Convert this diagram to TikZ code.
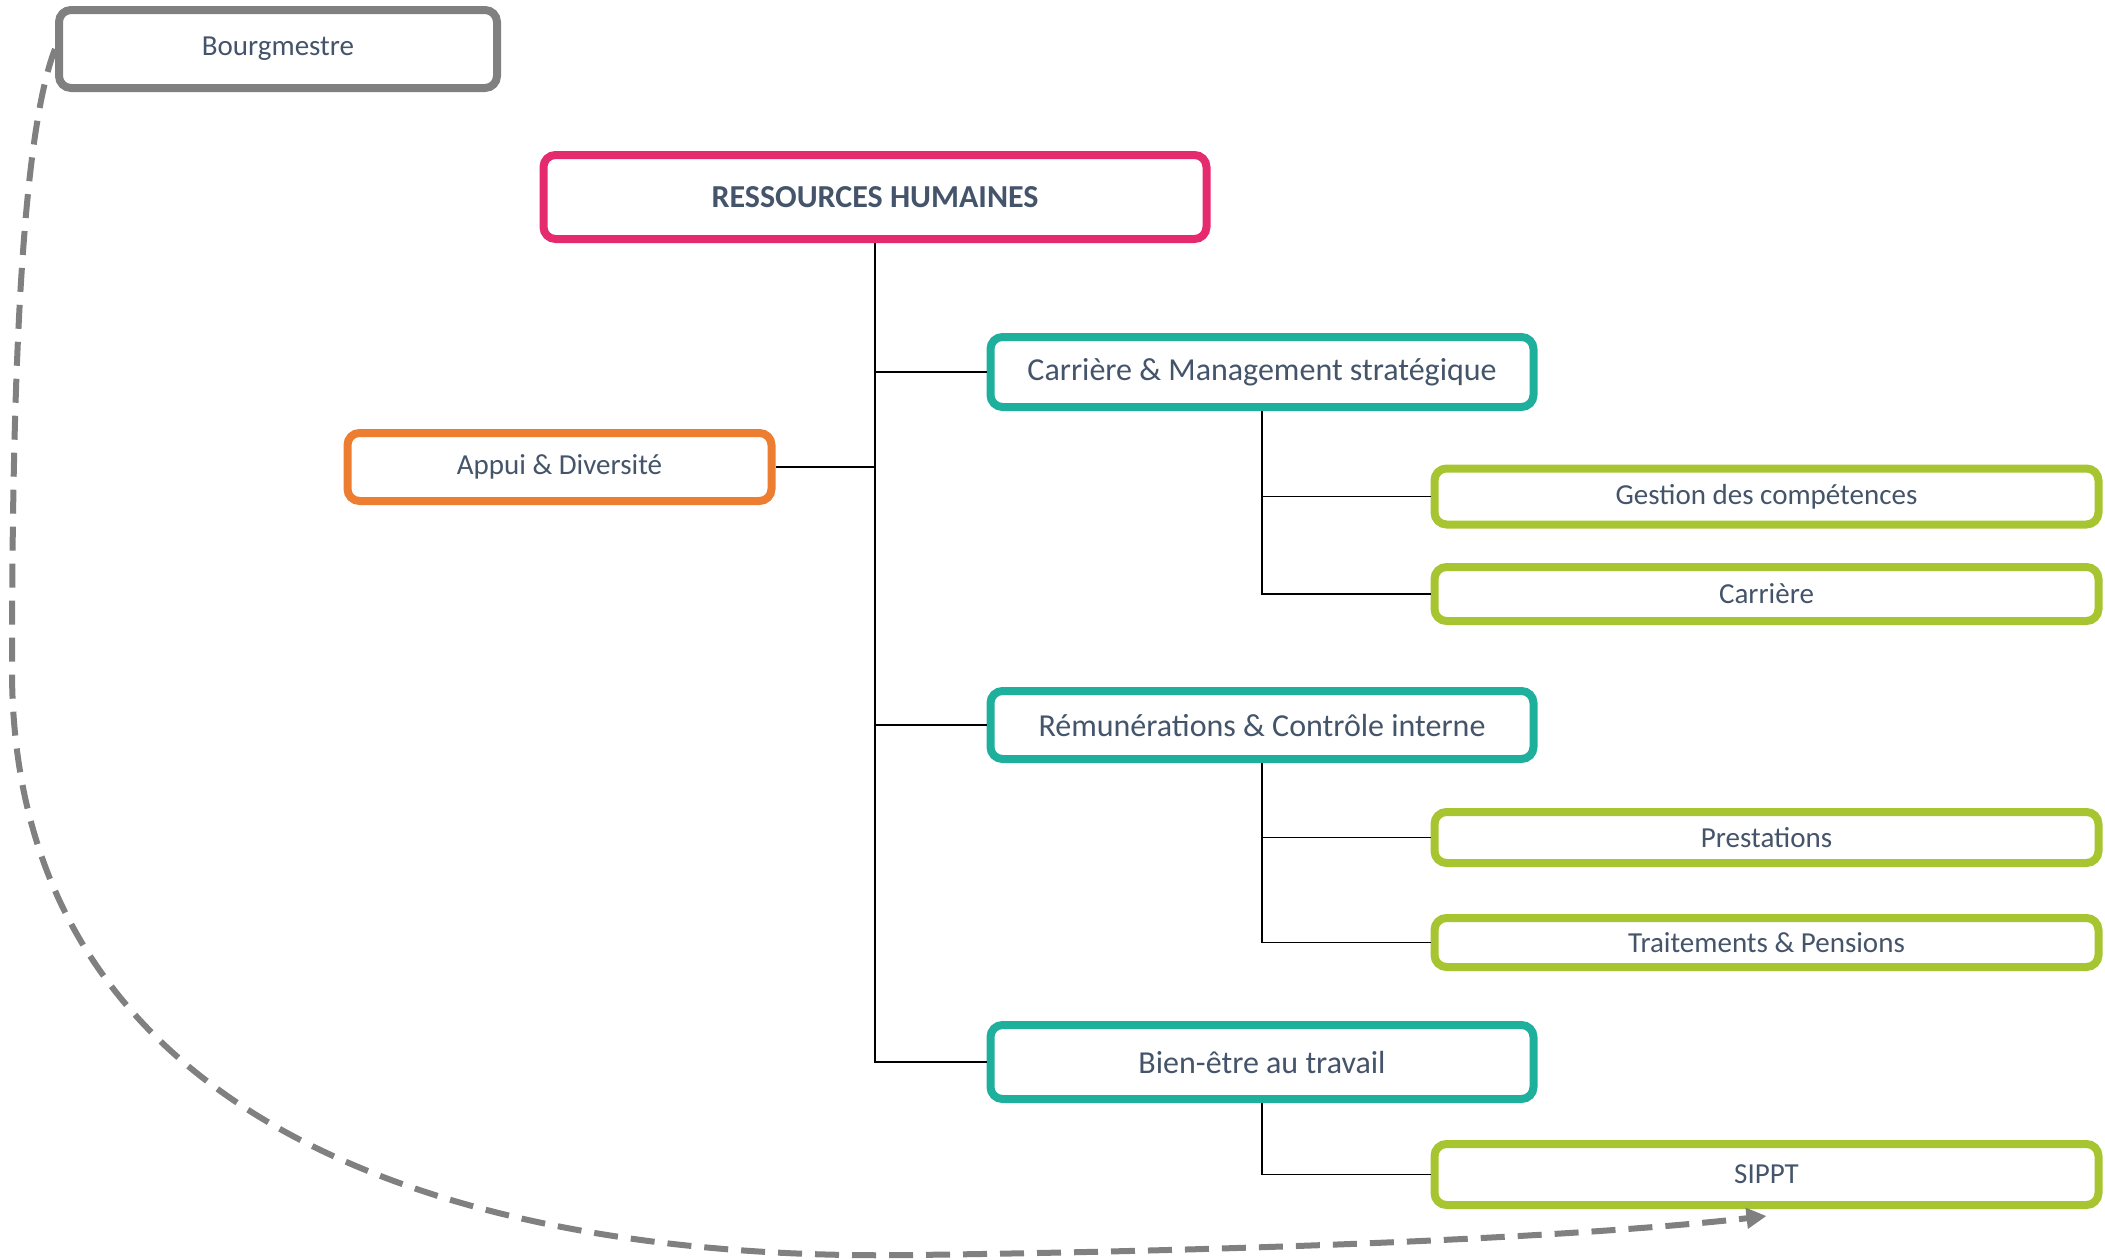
\documentclass[tikz,border=0pt]{standalone}
\usepackage{fontspec}
\setmainfont{Carlito}
\usetikzlibrary{arrows.meta}
\definecolor{txt}{HTML}{44546A}
\definecolor{cpink}{HTML}{E62A6E}
\definecolor{corange}{HTML}{ED7D31}
\definecolor{cteal}{HTML}{1FAF9D}
\definecolor{cgreen}{HTML}{A6C530}
\definecolor{cgray}{HTML}{808080}
\tikzset{
  box/.style={draw, rounded corners=12pt, line width=8pt, fill=white, text=txt, inner sep=0pt, align=center},
  bigfont/.style={font=\fontsize{32}{38}\selectfont},
  smallfont/.style={font=\fontsize{29}{35}\selectfont},
  link/.style={draw=black, line width=1.4pt},
  dashlink/.style={draw=cgray, line width=6pt, dash pattern=on 24pt off 13pt, -{Triangle[length=20pt,width=20pt]}}
}
\begin{document}
\begin{tikzpicture}[x=1pt,y=-1pt]
\useasboundingbox (0,0) rectangle (2105,1259);
% nodes
\node[box, smallfont, draw=cgray, minimum width=438pt, minimum height=78pt] (B) at (278,49) {\raisebox{-4pt}{Bourgmestre}};
\node[box, draw=cpink, minimum width=663pt, minimum height=84pt, font=\fontsize{32}{38}\selectfont\bfseries] (RH) at (875,197) {RESSOURCES HUMAINES};
\node[box, smallfont, draw=corange, minimum width=424pt, minimum height=68pt] (AD) at (559.5,467) {Appui \& Diversité};
\node[box, bigfont, draw=cteal, minimum width=543pt, minimum height=70pt] (CM) at (1262,372) {\raisebox{-3pt}{Carrière \& Management stratégique}};
\node[box, bigfont, draw=cteal, minimum width=543pt, minimum height=68pt] (RC) at (1262,725) {Rémunérations \& Contrôle interne};
\node[box, bigfont, draw=cteal, minimum width=543pt, minimum height=74pt] (BE) at (1262,1062) {Bien-être au travail};
\node[box, smallfont, draw=cgreen, minimum width=664pt, minimum height=56pt] (GC) at (1766.5,496.5) {Gestion des compétences};
\node[box, smallfont, draw=cgreen, minimum width=664pt, minimum height=54pt] (CA) at (1766.5,594) {Carrière};
\node[box, smallfont, draw=cgreen, minimum width=664pt, minimum height=51pt] (PR) at (1766.5,837.5) {Prestations};
\node[box, smallfont, draw=cgreen, minimum width=664pt, minimum height=49pt] (TP) at (1766.5,942.5) {Traitements \& Pensions};
\node[box, smallfont, draw=cgreen, minimum width=664pt, minimum height=61pt] (SI) at (1766.5,1174.5) {SIPPT};
% connectors
\draw[link] (RH.south) -- (RH.south |- BE.west) -- (BE.west);
\draw[link] (RH.south |- CM.west) -- (CM.west);
\draw[link] (RH.south |- RC.west) -- (RC.west);
\draw[link] (AD.east) -- (RH.south |- AD.east);
\draw[link] (CM.south) |- (GC.west);
\draw[link] (CM.south) |- (CA.west);
\draw[link] (RC.south) |- (PR.west);
\draw[link] (RC.south) |- (TP.west);
\draw[link] (BE.south) |- (SI.west);
% dashed link
\coordinate (arrowend) at ([yshift=-7pt]SI.south);
\draw[dashlink] (B.west) .. controls (20,140) and (12,400) .. (12,670)
  .. controls (12,1120) and (450,1262) .. (913,1255)
  .. controls (1300,1250) and (1600,1235) .. (arrowend);
\end{tikzpicture}
\end{document}
